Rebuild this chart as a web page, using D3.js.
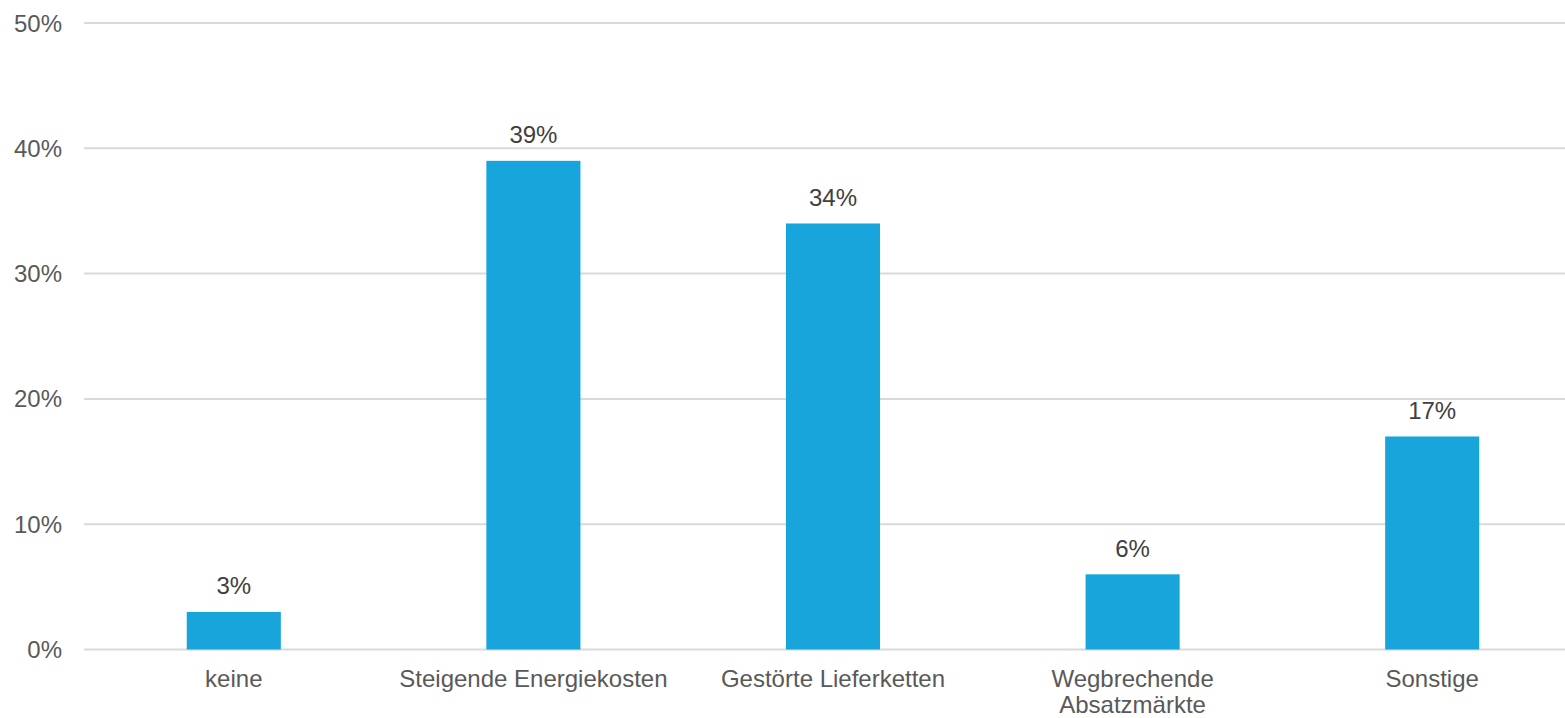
<!DOCTYPE html>
<html><head><meta charset="utf-8">
<script src="https://cdn.jsdelivr.net/npm/d3@7"></script>
<style>
html,body{margin:0;padding:0;background:#fff;}
svg text{font-family:"Liberation Sans",Arial,Helvetica,sans-serif;}
</style></head>
<body>
<svg id="chart" width="1565" height="718"></svg>
<script>
const categories = [["keine"], ["Steigende Energiekosten"], ["Gestörte Lieferketten"], ["Wegbrechende", "Absatzmärkte"], ["Sonstige"]];
const values = [3, 39, 34, 6, 17];
const yTicks = [0, 10, 20, 30, 40, 50];

const svg = d3.select("#chart");
const keys = categories.map((c, i) => i);

const x = d3.scaleBand().domain(keys).range([84, 1582]).paddingInner(0.686).paddingOuter(0.343);
const y = d3.scaleLinear().domain([0, 50]).range([649.5, 23]);

// gridlines
svg.append("g").selectAll("line").data(yTicks).join("line")
  .attr("x1", 84).attr("x2", 1565)
  .attr("y1", d => y(d)).attr("y2", d => y(d))
  .attr("stroke", "#d9d9d9").attr("stroke-width", 2);

// y labels
svg.append("g").selectAll("text").data(yTicks).join("text")
  .attr("x", 62).attr("y", d => y(d) + 8.5)
  .attr("text-anchor", "end").attr("font-size", 24).attr("fill", "#595959")
  .text(d => d + "%");

// bars
svg.append("g").selectAll("rect").data(values).join("rect")
  .attr("x", (d, i) => x(i)).attr("width", x.bandwidth())
  .attr("y", d => y(d)).attr("height", d => y(0) - y(d))
  .attr("fill", "#17a5dc");

// data labels
svg.append("g").selectAll("text").data(values).join("text")
  .attr("x", (d, i) => x(i) + x.bandwidth() / 2)
  .attr("y", d => y(d) - 17.5)
  .attr("text-anchor", "middle").attr("font-size", 24).attr("fill", "#404040")
  .text(d => d + "%");

// category labels
const cat = svg.append("g").selectAll("text").data(categories).join("text")
  .attr("x", (d, i) => x(i) + x.bandwidth() / 2)
  .attr("y", 686.5)
  .attr("text-anchor", "middle").attr("font-size", 24).attr("fill", "#595959");
cat.selectAll("tspan").data(d => d).join("tspan")
  .attr("x", function() { return d3.select(this.parentNode).attr("x"); })
  .attr("dy", (d, j) => j === 0 ? 0 : 26)
  .text(d => d);
</script>
</body></html>
